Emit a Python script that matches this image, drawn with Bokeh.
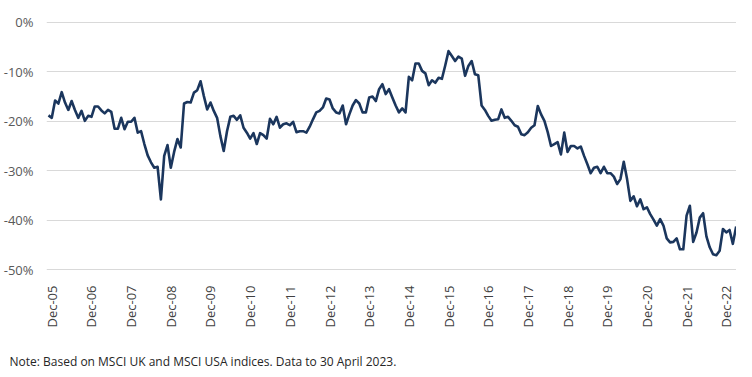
import math
from bokeh.plotting import figure
from bokeh.models import Range1d, FixedTicker, PrintfTickFormatter, Title
from bokeh.embed import file_html
from bokeh.resources import INLINE

# Monthly relative performance, Nov 2005 .. Apr 2023 (%)
rel_perf = [
    -18.8, -19.3, -15.8, -16.4, -14.1, -16.2, -17.7, -15.9, -17.7, -19.3,
    -17.9, -19.9, -18.9, -19.1, -17.0, -17.0, -17.8, -18.4, -17.7, -18.1,
    -21.5, -21.5, -19.3, -21.6, -20.1, -20.1, -19.3, -22.3, -22.0, -24.6,
    -26.9, -28.3, -29.4, -29.2, -35.8, -27.0, -24.8, -29.4, -26.2, -23.6,
    -25.3, -16.4, -16.1, -16.2, -14.2, -13.7, -11.9, -14.9, -17.6, -16.2,
    -17.9, -19.3, -23.0, -26.0, -22.0, -19.1, -18.9, -19.7, -18.8, -21.3,
    -22.3, -23.5, -22.4, -24.6, -22.4, -22.8, -23.5, -19.5, -20.6, -19.1,
    -21.3, -20.6, -20.4, -20.8, -20.1, -22.2, -22.0, -22.0, -22.3, -21.1,
    -19.6, -18.2, -17.9, -17.2, -15.4, -15.6, -17.4, -18.2, -18.4, -16.8,
    -20.6, -18.6, -16.8, -15.7, -16.4, -18.2, -18.2, -15.2, -15.0, -15.9,
    -13.5, -12.5, -14.5, -13.5, -15.2, -16.8, -18.2, -17.4, -18.2, -11.0,
    -11.7, -8.3, -8.3, -9.8, -10.3, -12.7, -11.7, -12.2, -11.2, -11.4,
    -8.7, -5.8, -6.8, -7.8, -6.9, -7.3, -10.8, -8.8, -7.8, -10.5,
    -10.7, -16.8, -17.7, -18.9, -19.9, -19.7, -19.6, -17.6, -19.3, -19.1,
    -19.9, -20.8, -21.1, -22.6, -22.8, -22.2, -21.3, -20.8, -16.9, -18.6,
    -19.9, -22.2, -25.0, -24.6, -24.2, -26.7, -22.3, -26.2, -25.0, -25.0,
    -25.5, -25.1, -27.0, -28.7, -30.5, -29.4, -29.2, -30.5, -29.2, -30.5,
    -30.5, -31.2, -32.7, -31.7, -28.2, -31.7, -36.1, -35.2, -37.2, -35.8,
    -37.8, -37.4, -38.8, -39.9, -41.1, -39.8, -41.1, -43.7, -44.5, -44.4,
    -43.7, -45.9, -45.9, -39.1, -37.1, -44.4, -42.5, -39.5, -38.6, -43.3,
    -45.5, -46.9, -47.1, -46.2, -41.8, -42.5, -42.0, -44.8, -41.3,
]
month_index = list(range(len(rel_perf)))

# December tick positions and labels
dec_positions = [1 + 12 * k for k in range(18)]
dec_labels = ["Dec-%02d" % (5 + k) for k in range(18)]

y_ticks = [0, -10, -20, -30, -40, -50]
note_text = "Note: Based on MSCI UK and MSCI USA indices. Data to 30 April 2023."

p = figure(
    width=736, height=374,
    output_backend="svg", toolbar_location=None,
    x_range=Range1d(-0.6, len(rel_perf) - 0.9),
    y_range=Range1d(-50.4, 0.4),
    min_border_left=39, min_border_right=0,
    min_border_top=20, min_border_bottom=103,
)
p.outline_line_color = None
p.background_fill_color = "white"
p.border_fill_color = "white"

p.line(month_index, rel_perf, line_color="#1b365d", line_width=2.6, line_join="round")

# Y axis
p.yaxis.ticker = FixedTicker(ticks=y_ticks)
p.yaxis.formatter = PrintfTickFormatter(format="%d%%")
p.yaxis.axis_line_color = None
p.yaxis.major_tick_line_color = None
p.yaxis.minor_tick_line_color = None
p.yaxis.major_label_text_font = "Open Sans"
p.yaxis.major_label_text_font_size = "13px"
p.yaxis.major_label_text_color = "#595959"
p.yaxis.major_label_standoff = 7

# X axis
p.xaxis.ticker = FixedTicker(ticks=dec_positions)
p.xaxis.major_label_overrides = {pos: lab for pos, lab in zip(dec_positions, dec_labels)}
p.xaxis.major_label_orientation = math.pi / 2
p.xaxis.axis_line_color = None
p.xaxis.major_tick_line_color = None
p.xaxis.minor_tick_line_color = None
p.xaxis.major_label_text_font = "Open Sans"
p.xaxis.major_label_text_font_size = "13px"
p.xaxis.major_label_text_color = "#404040"
p.xaxis.major_label_standoff = 8

# Grid
p.xgrid.grid_line_color = None
p.ygrid.ticker = FixedTicker(ticks=y_ticks)
p.ygrid.grid_line_color = "#d9d9d9"
p.ygrid.grid_line_width = 1

spacer = Title(text=" ", text_font_size="9px", standoff=8)
p.add_layout(spacer, "below")
note = Title(
    text=note_text, align="left", offset=-37, standoff=0,
    text_font="Open Sans", text_font_size="12px", text_font_style="normal",
    text_color="#262626",
)
p.add_layout(note, "below")

open("out.html", "w").write(file_html(p, INLINE))
